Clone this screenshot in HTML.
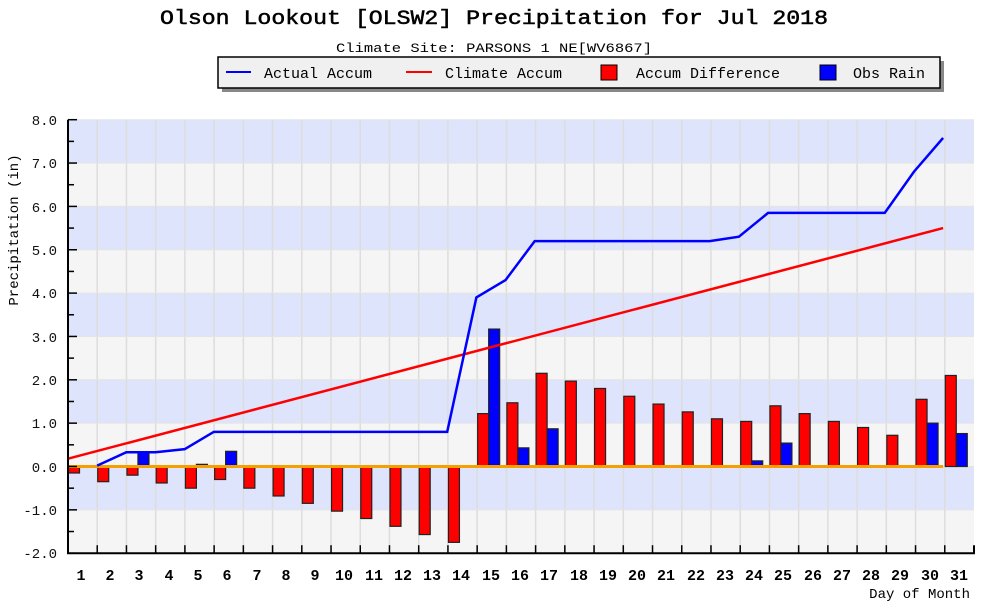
<!DOCTYPE html>
<html><head><meta charset="utf-8"><style>
html,body{margin:0;padding:0;background:#fff}
svg{display:block;font-family:"Liberation Mono",monospace}
</style></head><body>
<svg id="s" width="984" height="611" viewBox="0 0 984 611">
<g id="bg"></g>
<text x="160" y="24" font-size="20" textLength="668" lengthAdjust="spacingAndGlyphs" stroke="#000" stroke-width="0.5">Olson Lookout [OLSW2] Precipitation for Jul 2018</text>
<text x="336" y="52" font-size="13" textLength="316" lengthAdjust="spacingAndGlyphs">Climate Site: PARSONS 1 NE[WV6867]</text>
<rect x="222" y="61" width="722" height="31" fill="#888"/>
<rect x="218" y="57" width="722" height="31" fill="#f0f0f0" stroke="#000" stroke-width="1.5"/>
<line x1="226" y1="72" x2="251" y2="72" stroke="#00f" stroke-width="2"/>
<text x="264" y="78" font-size="15">Actual Accum</text>
<line x1="406" y1="72" x2="432" y2="72" stroke="#f00" stroke-width="2"/>
<text x="445" y="78" font-size="15">Climate Accum</text>
<rect x="601" y="65" width="16" height="15" fill="#f00" stroke="#000"/>
<text x="636" y="78" font-size="15">Accum Difference</text>
<rect x="820" y="65" width="16" height="15" fill="#00f" stroke="#000"/>
<text x="853" y="78" font-size="15">Obs Rain</text>
<g font-size="14" text-anchor="end" fill="#111">
<text x="57" y="125">8.0</text><text x="57" y="168">7.0</text><text x="57" y="212">6.0</text><text x="57" y="255">5.0</text><text x="57" y="298">4.0</text><text x="57" y="342">3.0</text><text x="57" y="385">2.0</text><text x="57" y="428">1.0</text><text x="57" y="472">0.0</text><text x="57" y="515">-1.0</text><text x="57" y="558">-2.0</text>
</g>
<text transform="translate(18,230) rotate(-90)" text-anchor="middle" font-size="14">Precipitation (in)</text>
<g font-size="15" font-weight="bold" text-anchor="middle">
<text x="81" y="580">1</text><text x="110" y="580">2</text><text x="139" y="580">3</text><text x="169" y="580">4</text><text x="198" y="580">5</text><text x="227" y="580">6</text><text x="257" y="580">7</text><text x="286" y="580">8</text><text x="315" y="580">9</text><text x="344" y="580">10</text><text x="374" y="580">11</text><text x="403" y="580">12</text><text x="432" y="580">13</text><text x="461" y="580">14</text><text x="491" y="580">15</text><text x="520" y="580">16</text><text x="549" y="580">17</text><text x="579" y="580">18</text><text x="608" y="580">19</text><text x="637" y="580">20</text><text x="666" y="580">21</text><text x="696" y="580">22</text><text x="725" y="580">23</text><text x="754" y="580">24</text><text x="783" y="580">25</text><text x="813" y="580">26</text><text x="842" y="580">27</text><text x="871" y="580">28</text><text x="900" y="580">29</text><text x="930" y="580">30</text><text x="959" y="580">31</text>
</g>
<text x="970" y="598" text-anchor="end" font-size="14">Day of Month</text>
<g id="fg"></g>
</svg>
<script>
var NS="http://www.w3.org/2000/svg";
function el(p,t,a){var e=document.createElementNS(NS,t);for(var k in a)e.setAttribute(k,a[k]);document.getElementById(p).appendChild(e);return e;}
var L=68,R=974,W=(R-L)/31;function Y(v){return 466.5-v*43.35;}
for(var v=-2;v<8;v++){el("bg","rect",{x:L,y:Y(v+1),width:R-L,height:43.35,fill:((v%2+2)%2==1)?"#dde4fb":"#f5f5f5"});}
for(var d=1;d<31;d++){var x=L+d*W;el("bg","line",{x1:x,y1:Y(8),x2:x,y2:Y(-2),stroke:"#ddd","stroke-width":1.5});}
for(var v=-2;v<=8;v++){el("bg","line",{x1:L,y1:Y(v),x2:R,y2:Y(v),stroke:"#e4e4e4","stroke-width":1});}
var red=[-0.15,-0.35,-0.2,-0.38,-0.5,-0.3,-0.5,-0.68,-0.85,-1.03,-1.2,-1.38,-1.57,-1.75,1.22,1.47,2.15,1.97,1.8,1.62,1.44,1.26,1.1,1.04,1.4,1.22,1.04,0.9,0.72,1.55,2.1];
var blue={3:0.33,5:0.05,6:0.35,15:3.17,16:0.43,17:0.87,24:0.13,25:0.54,30:1.0,31:0.76};
for(var i=0;i<31;i++){var c=L+i*W,v=red[i];el("fg","rect",{x:c+0.5,y:Math.min(Y(v),Y(0)),width:11,height:Math.abs(Y(v)-Y(0)),fill:"#f00",stroke:"#222","stroke-width":1.2});
var b=blue[i+1];if(b){el("fg","rect",{x:c+11.5,y:Y(b),width:11,height:Y(0)-Y(b),fill:"#00f",stroke:"#222","stroke-width":1.2});}}
var LW=29.17;
el("fg","line",{x1:L,y1:Y(0),x2:L+30*LW,y2:Y(0),stroke:"#f5a000","stroke-width":3});
el("fg","line",{x1:L,y1:Y(0.18),x2:L+30*LW,y2:Y(5.5),stroke:"#f00","stroke-width":2.5});
var a=[[1,0.02],[2,0.33],[3,0.33],[4,0.4],[5,0.8],[13,0.8],[14,3.9],[15,4.3],[16,5.2],[22,5.2],[23,5.3],[24,5.85],[28,5.85],[29,6.8],[30,7.58]];
el("fg","polyline",{points:a.map(function(p){return (L+p[0]*LW)+","+Y(p[1]);}).join(" "),fill:"none",stroke:"#00f","stroke-width":2.5});
el("fg","polyline",{points:L+","+Y(8)+" "+L+","+Y(-2)+" "+R+","+Y(-2)+" "+R+","+(Y(-2)-8),fill:"none",stroke:"#000","stroke-width":2});
for(var v=-2;v<=8;v+=0.5){var mj=(v%1==0);el("fg","line",{x1:L,y1:Y(v),x2:L+(mj?9:6),y2:Y(v),stroke:"#000","stroke-width":1.5});}
for(var d=1;d<31;d++){var x=L+d*W;el("fg","line",{x1:x,y1:Y(-2),x2:x,y2:Y(-2)-8,stroke:"#000","stroke-width":1.5});}
</script>
</body></html>
